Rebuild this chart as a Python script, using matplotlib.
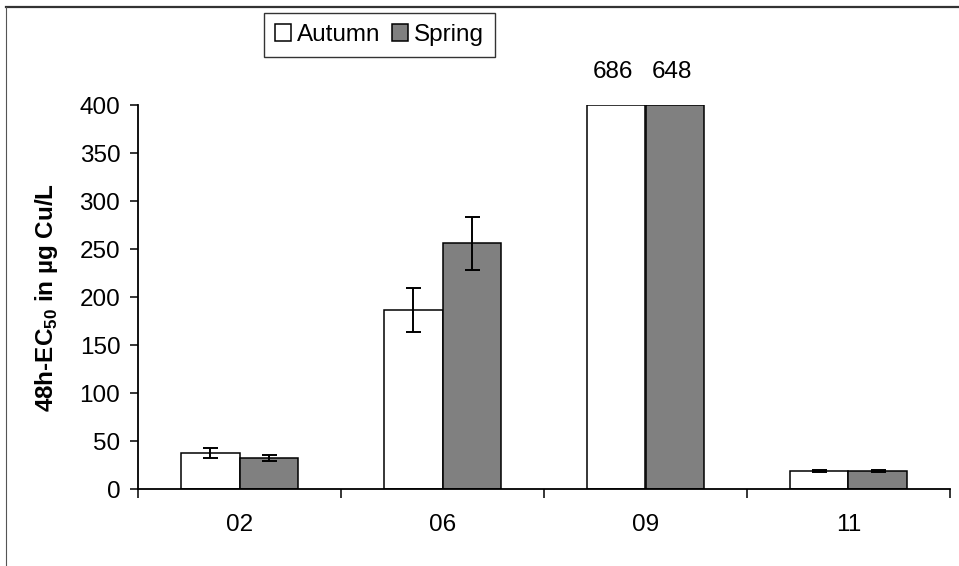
import matplotlib
matplotlib.use('Agg')
import matplotlib.pyplot as plt
import numpy as np
from matplotlib.lines import Line2D

plt.rcParams['font.family'] = ['Liberation Sans', 'DejaVu Sans']
plt.rcParams['mathtext.fontset'] = 'custom'
plt.rcParams['mathtext.rm'] = 'Liberation Sans'
plt.rcParams['mathtext.bf'] = 'Liberation Sans:bold'

# data
sites = ['02', '06', '09', '11']
autumn = [37.5, 187, 686, 19]
spring = [33, 256, 648, 19]
autumn_err = [5.3, 23, 0, 1.5]
spring_err = [3.2, 27.5, 0, 1.5]
ymax = 400
yticks = [0, 50, 100, 150, 200, 250, 300, 350, 400]

fs = 17.5
w = 0.29

fig = plt.figure(figsize=(9.59, 5.66), dpi=100)
ax = fig.add_axes([138/959, 1-489.3/566, 812/959, (489.3-105)/566])

x = np.arange(len(sites))
a_top = np.minimum(autumn, ymax)
s_top = np.minimum(spring, ymax)

ba = ax.bar(x - w/2, a_top, w, color='white', edgecolor='black', lw=1.1, label='Autumn')
bs = ax.bar(x + w/2, s_top, w, color='#808080', edgecolor='black', lw=1.1, label='Spring')

for xs, vals, errs in [(x - w/2, autumn, autumn_err), (x + w/2, spring, spring_err)]:
    for xi, v, e in zip(xs, vals, errs):
        if v <= ymax and e > 0:
            ax.errorbar(xi, v, yerr=e, fmt='none', ecolor='black',
                        elinewidth=1.4, capsize=5.4, capthick=1.4)
        elif v > ymax:
            ax.annotate(str(v), xy=(xi, ymax), xytext=(-2, 24), textcoords='offset points',
                        ha='center', va='center', fontsize=fs, annotation_clip=False)

ax.set_xlim(-0.5, len(sites) - 0.5)
ax.set_ylim(0, ymax)
ax.set_yticks(yticks)
ax.tick_params(axis='y', labelsize=fs, length=8*0.72, width=1.1, pad=7, direction='out')
ax.set_xticks(x)
ax.set_xticklabels(sites)
ax.tick_params(axis='x', which='major', length=0, labelsize=fs, pad=18)
ax.set_xticks(np.arange(len(sites) + 1) - 0.5, minor=True)
ax.tick_params(axis='x', which='minor', length=9*0.72, width=1.1, direction='out')

for s in ['top', 'right']:
    ax.spines[s].set_visible(False)
for s in ['left', 'bottom']:
    ax.spines[s].set_linewidth(1.3)

fig.text(47/959, 1-297/566, '48h-EC$_{\\mathbf{50}}$ in µg Cu/L', rotation=90,
         ha='center', va='center', fontsize=fs, fontweight='bold')

leg = fig.legend(handles=[ba, bs], loc='upper left', bbox_to_anchor=(264/959, 1-13/566),
                 bbox_transform=fig.transFigure, borderaxespad=0, ncol=2,
                 fontsize=fs, handlelength=0.65, handleheight=0.65, handletextpad=0.25,
                 columnspacing=0.5, borderpad=0.45, fancybox=False, frameon=True)
leg.get_frame().set_edgecolor('black')
leg.get_frame().set_linewidth(1.0)

# outer frame (top + left)
fig.add_artist(Line2D([6/959, 1], [1-7/566, 1-7/566], color='#333333', lw=1.6,
                      transform=fig.transFigure))
fig.add_artist(Line2D([6/959, 6/959], [0, 1-7/566], color='#555555', lw=0.8,
                      transform=fig.transFigure))

fig.savefig('out.png', dpi=100)
